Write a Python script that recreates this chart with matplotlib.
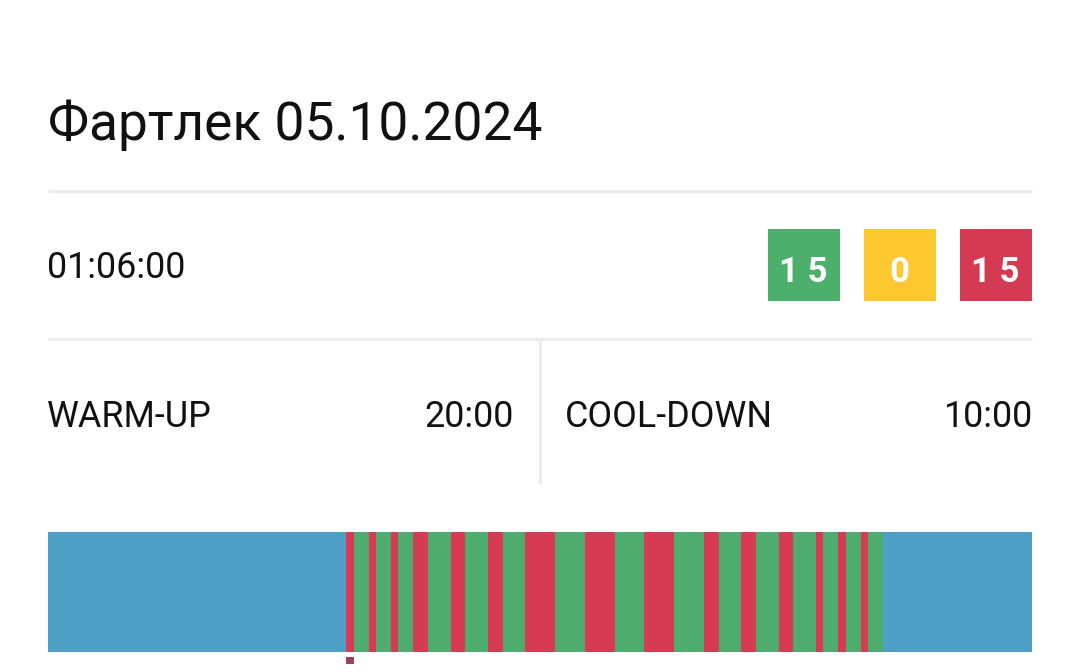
import matplotlib
matplotlib.use("Agg")
import matplotlib.pyplot as plt
from matplotlib.patches import Rectangle

# ---- data ----
title = "Фартлек 05.10.2024"
total_time = "01:06:00"
warmup_label, warmup_time = "WARM-UP", "20:00"
cooldown_label, cooldown_time = "COOL-DOWN", "10:00"
badge_values = [15, 0, 15]
badge_colors = ["#4caf6c", "#fdc830", "#d43b52"]

# segment durations in minutes and zone types
seg_durations = [20,
                 0.5, 1, 0.5, 1, 0.5, 1,
                 1, 1.5, 1, 1.5, 1, 1.5,
                 2, 2, 2, 2, 2, 2,
                 1, 1.5, 1, 1.5, 1, 1.5,
                 0.5, 1, 0.5, 1, 0.5, 1,
                 10]
seg_types = (["warm"] + ["fast", "slow"] * 15 + ["cool"])
type_colors = {"warm": "#4d9fc5", "cool": "#4d9fc5",
               "fast": "#d63a55", "slow": "#4fac6f"}
marker_start, marker_len = 20, 0.5

W, H = 1080, 672
fig = plt.figure(figsize=(W / 100, H / 100), dpi=100)
fig.patch.set_facecolor("white")

# pixel-coordinate overlay axes for the card layout
ax = fig.add_axes([0, 0, 1, 1])
ax.set_xlim(0, W)
ax.set_ylim(H, 0)
ax.axis("off")

font = "Roboto"
txt = "#111111"
line_c = "#ececec"
fs = 25.8

ax.text(48, 140, title, fontsize=38.3, family=font, color=txt, va="baseline", ha="left")
ax.plot([48, 1032], [191, 191], color=line_c, lw=2.2, solid_capstyle="butt")

ax.text(47, 278, total_time, fontsize=fs, family=font, color=txt, va="baseline", ha="left")

bx = [768, 864, 960]
for x0, v, c in zip(bx, badge_values, badge_colors):
    ax.add_patch(Rectangle((x0, 229), 72, 72, color=c, lw=0))
    ax.text(x0 + 35, 282, " ".join(str(v)), fontsize=25, family=font, weight="bold",
            color="white", ha="center", va="baseline")

ax.plot([48, 1032], [339, 339], color=line_c, lw=2.2, solid_capstyle="butt")
ax.plot([540, 540], [340, 484], color=line_c, lw=2.2, solid_capstyle="butt")

ax.text(47, 427, warmup_label, fontsize=fs, family=font, color=txt, va="baseline", ha="left")
ax.text(514, 427, warmup_time, fontsize=fs, family=font, color=txt, va="baseline", ha="right")
ax.text(565, 427, cooldown_label, fontsize=fs, family=font, color=txt, va="baseline", ha="left")
ax.text(1032, 427, cooldown_time, fontsize=fs, family=font, color=txt, va="baseline", ha="right")

# ---- interval bar, drawn in time units ----
bar_ax = fig.add_axes([48 / W, (H - 672) / H, 984 / W, 140 / H])
total = sum(seg_durations)
bar_ax.set_xlim(0, total)
bar_ax.set_ylim(140, 0)
bar_ax.axis("off")
lefts = []
acc = 0
for d in seg_durations:
    lefts.append(acc)
    acc += d
bar_ax.barh([60] * len(seg_durations), seg_durations, left=lefts, height=120,
            color=[type_colors[t] for t in seg_types], linewidth=0)
bar_ax.barh([128.5], [marker_len], left=[marker_start], height=7,
            color="#a0405e", linewidth=0)

fig.savefig("out.png", dpi=100, facecolor="white")
